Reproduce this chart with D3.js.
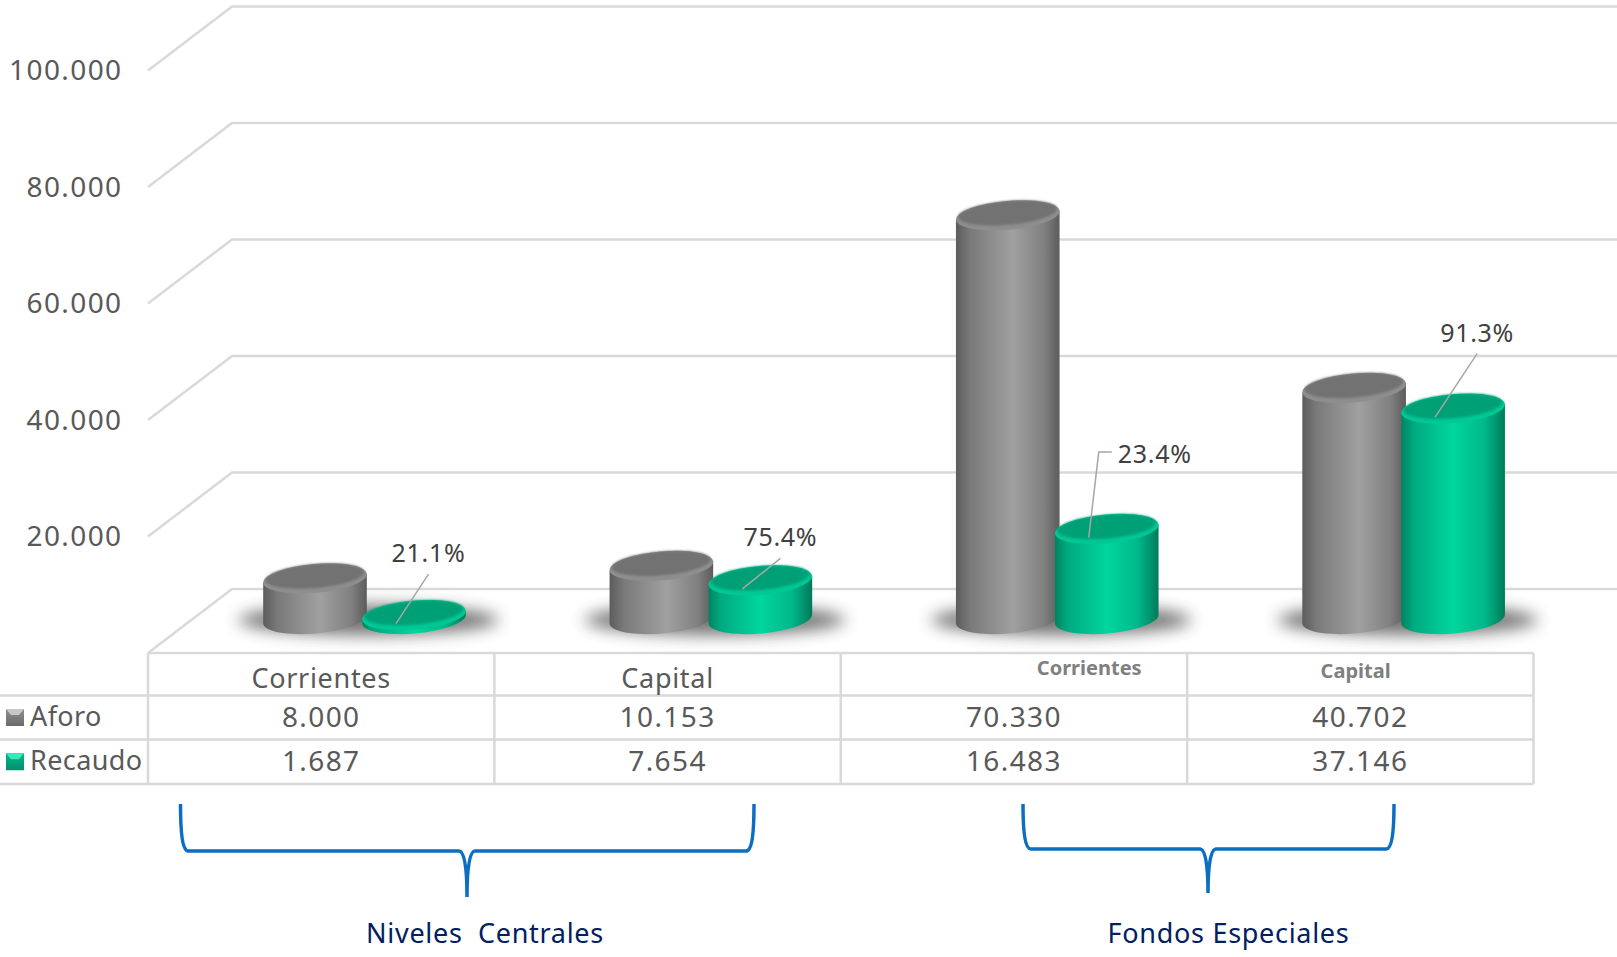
<!DOCTYPE html>
<html>
<head>
<meta charset="utf-8">
<script src="https://d3js.org/d3.v7.min.js"></script>
<style>
  body { margin: 0; background: #fff; }
  svg { display: block; }
  text { font-family: "Noto Sans", sans-serif; letter-spacing: 0.7px; white-space: pre; }
</style>
</head>
<body>
<div id="chart"></div>
<script>
// chart values
var categories = ["Corrientes", "Capital", "Corrientes ", "Capital "];
var seriesNames = ["Aforo", "Recaudo"];
var aforo = [8000, 10153, 70330, 40702];
var recaudo = [1687, 7654, 16483, 37146];
var pctLabels = ["21.1%", "75.4%", "23.4%", "91.3%"];
var yTicks = [20000, 40000, 60000, 80000, 100000];
var gridValues = [0, 20000, 40000, 60000, 80000, 100000];
var groupNames = ["Niveles  Centrales", "Fondos Especiales"];

// layout
var svgWidth = 1617, svgHeight = 957;
var left = 148, right = 1533.5;
var floorY = 653, topY = 70.5;
var depthX = 84, depthY = -64;
var rowLines = [653, 695.5, 739.5, 784];
var rx = 52, ry = 14.5, tilt = -5;
var barLift = -28, barBase = 619;

// label offset from the top of each green bar
var labelPos = [
  { dx: 14.5, dy: -62, line: [[14.5, -41]] },
  { dx: 20, dy: -43, line: [[20, -22]] },
  { dx: 48, dy: -75, line: [[5, -77], [-8, -77]] },
  { dx: 24, dy: -75, line: [[24, -55]] }
];

var svg = d3.select("#chart").append("svg")
  .attr("width", svgWidth)
  .attr("height", svgHeight);

var fmt = d3.formatLocale({ decimal: ",", thousands: ".", grouping: [3], currency: ["", ""] }).format(",d");

var x = d3.scaleBand().domain(categories).range([left, right]);
var xSeries = d3.scaleBand().domain(seriesNames).range([117.5, 315.5]);
var y = d3.scaleLinear().domain([0, 100000]).range([floorY, topY]);

// gradients
var defs = svg.append("defs");
function sideGradient(id, stops) {
  var g = defs.append("linearGradient").attr("id", id);
  stops.forEach(function(s) {
    g.append("stop").attr("offset", s[0]).attr("stop-color", s[1]);
  });
}
sideGradient("sideGrey", [[0, "#5c5c5c"], [0.14, "#7a7a7a"], [0.55, "#a0a0a0"], [0.85, "#808080"], [1, "#5c5c5c"]]);
sideGradient("sideGreen", [[0, "#00835f"], [0.12, "#00aa80"], [0.5, "#00d69e"], [0.8, "#00b88b"], [1, "#007a5a"]]);

var keyGrey = defs.append("linearGradient").attr("id", "keyGrey").attr("x2", 0).attr("y2", 1);
keyGrey.append("stop").attr("offset", 0).attr("stop-color", "#909090");
keyGrey.append("stop").attr("offset", 1).attr("stop-color", "#6a6a6a");
var keyGreen = defs.append("linearGradient").attr("id", "keyGreen").attr("x2", 0).attr("y2", 1);
keyGreen.append("stop").attr("offset", 0).attr("stop-color", "#00b88b");
keyGreen.append("stop").attr("offset", 1).attr("stop-color", "#008f6b");

defs.append("filter").attr("id", "shadowBlur")
  .attr("x", "-30%").attr("y", "-150%").attr("width", "160%").attr("height", "400%")
  .append("feGaussianBlur").attr("stdDeviation", 8);
defs.append("filter").attr("id", "topBlur")
  .append("feGaussianBlur").attr("stdDeviation", 1.2);

// back wall and floor
var gridColor = "#d9d9d9";
var grid = svg.append("g").attr("stroke", gridColor).attr("stroke-width", 2.5).attr("fill", "none");

grid.selectAll("path")
  .data(gridValues)
  .enter()
  .append("path")
  .attr("d", function(d) {
    return "M" + left + "," + y(d) + "L" + (left + depthX) + "," + (y(d) + depthY) + "L" + svgWidth + "," + (y(d) + depthY);
  });

// y axis labels
var yAxis = d3.axisLeft(y).tickValues(yTicks).tickSize(0).tickFormat(fmt);
var yGroup = svg.append("g").attr("transform", "translate(125.5,0.5)").call(yAxis);
yGroup.select(".domain").remove();
yGroup.selectAll("text")
  .attr("font-size", 28)
  .attr("fill", "#595959")
  .style("letter-spacing", "1.4px")
  .style("font-family", "'Noto Sans', sans-serif");

// cylinders
function barTop(v) { return y(v) + barLift; }

var rad = tilt * Math.PI / 180;
var ax = rx * Math.cos(rad), ay = rx * Math.sin(rad);

function cylinderPath(cx, top) {
  return "M" + (cx - ax) + "," + (top - ay) +
    "L" + (cx - ax) + "," + (barBase - ay) +
    "A" + rx + "," + ry + " " + tilt + " 0 0 " + (cx + ax) + "," + (barBase + ay) +
    "L" + (cx + ax) + "," + (top + ay) + "Z";
}

function drawCylinder(g, cx, v, side, rim, face) {
  var top = barTop(v);
  g.append("path").attr("d", cylinderPath(cx, top)).attr("fill", "url(#" + side + ")");
  g.append("ellipse")
    .attr("cx", cx).attr("cy", top).attr("rx", rx).attr("ry", ry)
    .attr("transform", "rotate(" + tilt + "," + cx + "," + top + ")")
    .attr("fill", rim);
  g.append("ellipse")
    .attr("cx", cx).attr("cy", top - 2.4).attr("rx", rx - 2.5).attr("ry", ry - 2.6)
    .attr("transform", "rotate(" + tilt + "," + cx + "," + top + ")")
    .attr("fill", face)
    .attr("filter", "url(#topBlur)");
}

categories.forEach(function(cat, i) {
  var g = svg.append("g").attr("class", "category");
  var cxGrey = x(cat) + xSeries("Aforo") + xSeries.bandwidth() / 2;
  var cxGreen = x(cat) + xSeries("Recaudo") + xSeries.bandwidth() / 2;

  g.append("ellipse")
    .attr("cx", (cxGrey + cxGreen) / 2 + 4)
    .attr("cy", barBase + 1)
    .attr("rx", 130)
    .attr("ry", 15)
    .attr("fill", "#3a3a3a")
    .attr("opacity", 0.7)
    .attr("filter", "url(#shadowBlur)");

  drawCylinder(g, cxGrey, aforo[i], "sideGrey", "#8e8e8e", "#727272");
  drawCylinder(g, cxGreen, recaudo[i], "sideGreen", "#00c894", "#00a077");

  // leader line and percentage
  var top = barTop(recaudo[i]);
  var pos = labelPos[i];
  var pts = pos.line.concat([[-18, 8.5]]).map(function(p) { return [cxGreen + p[0], top + p[1]]; });
  g.append("path")
    .attr("d", d3.line()(pts))
    .attr("fill", "none")
    .attr("stroke", "#a6a6a6")
    .attr("stroke-width", 1.5);
  g.append("text")
    .attr("x", cxGreen + pos.dx)
    .attr("y", top + pos.dy)
    .attr("dy", "0.35em")
    .attr("text-anchor", "middle")
    .attr("font-size", 25)
    .attr("fill", "#404040")
    .text(pctLabels[i]);
});

// data table
var table = svg.append("g").attr("stroke", gridColor).attr("stroke-width", 2.5);
rowLines.forEach(function(ry_, i) {
  table.append("line")
    .attr("x1", i === 0 ? left : 0).attr("x2", right)
    .attr("y1", ry_).attr("y2", ry_);
});
x.domain().concat(["end"]).forEach(function(c) {
  var px = c === "end" ? right : x(c);
  table.append("line")
    .attr("x1", px).attr("x2", px)
    .attr("y1", rowLines[0]).attr("y2", rowLines[3]);
});

var cell = svg.append("g").attr("text-anchor", "middle").attr("fill", "#595959").attr("font-size", 28);

categories.forEach(function(cat, i) {
  var cx = x(cat) + x.bandwidth() / 2;
  if (i < 2) {
    cell.append("text").attr("x", cx).attr("y", 679).attr("dy", "0.35em").attr("font-size", 27).text(cat);
  }
  cell.append("text").attr("x", cx).attr("y", 717).attr("dy", "0.35em").style("letter-spacing", "1.4px").text(fmt(aforo[i]));
  cell.append("text").attr("x", cx).attr("y", 761).attr("dy", "0.35em").style("letter-spacing", "1.4px").text(fmt(recaudo[i]));
});

// the two smaller bold headers
cell.append("text").attr("x", x(categories[2]) + 248.5).attr("y", 668).attr("dy", "0.35em")
  .attr("font-size", 20).attr("font-weight", 700).attr("fill", "#7f7f7f").style("letter-spacing", "0px")
  .text(categories[2].trim());
cell.append("text").attr("x", x(categories[3]) + 168.5).attr("y", 671).attr("dy", "0.35em")
  .attr("font-size", 20).attr("font-weight", 700).attr("fill", "#7f7f7f").style("letter-spacing", "0px")
  .text(categories[3].trim());

// legend keys
seriesNames.forEach(function(name, i) {
  var rowY = (rowLines[i + 1] + rowLines[i + 2]) / 2;
  var kx = 6, kw = 18, kh = 17, ky = rowY - 8.5;
  svg.append("rect")
    .attr("x", kx).attr("y", ky).attr("width", kw).attr("height", kh)
    .attr("fill", i === 0 ? "url(#keyGrey)" : "url(#keyGreen)");
  svg.append("polygon")
    .attr("points", [[kx, ky], [kx + kw, ky], [kx + kw - 5, ky + 6], [kx + 5, ky + 6]].join(" "))
    .attr("fill", i === 0 ? "#c8c8c8" : "#3be8bb");
  svg.append("text")
    .attr("x", 30).attr("y", rowY - 1).attr("dy", "0.35em")
    .attr("font-size", 27).attr("fill", "#595959")
    .style("letter-spacing", "0.4px")
    .text(name);
});

// braces under the table
function bracePath(x1, x2, tipX, yTop, yMid, yTip) {
  return "M" + x1 + "," + yTop +
    "C" + x1 + "," + (yMid - 18) + " " + (x1 + 2) + "," + yMid + " " + (x1 + 8) + "," + yMid +
    "L" + (tipX - 8) + "," + yMid +
    "C" + (tipX - 3) + "," + yMid + " " + tipX + "," + (yMid + 14) + " " + tipX + "," + yTip +
    "C" + tipX + "," + (yMid + 14) + " " + (tipX + 3) + "," + yMid + " " + (tipX + 8) + "," + yMid +
    "L" + (x2 - 8) + "," + yMid +
    "C" + (x2 - 2) + "," + yMid + " " + x2 + "," + (yMid - 18) + " " + x2 + "," + yTop;
}

var braces = [
  { x1: 180.5, x2: 754, tip: 467, mid: 851, end: 897, label: 485 },
  { x1: 1023, x2: 1394, tip: 1208, mid: 849, end: 893, label: 1228.5 }
];

groupNames.forEach(function(name, i) {
  var b = braces[i];
  svg.append("path")
    .attr("d", bracePath(b.x1, b.x2, b.tip, 804, b.mid, b.end))
    .attr("fill", "none")
    .attr("stroke", "#0a6fc2")
    .attr("stroke-width", 3.5);
  svg.append("text")
    .attr("x", b.label).attr("y", 934).attr("dy", "0.35em")
    .attr("text-anchor", "middle")
    .attr("font-size", 27)
    .attr("fill", "#002060")
    .text(name);
});
</script>
</body>
</html>
